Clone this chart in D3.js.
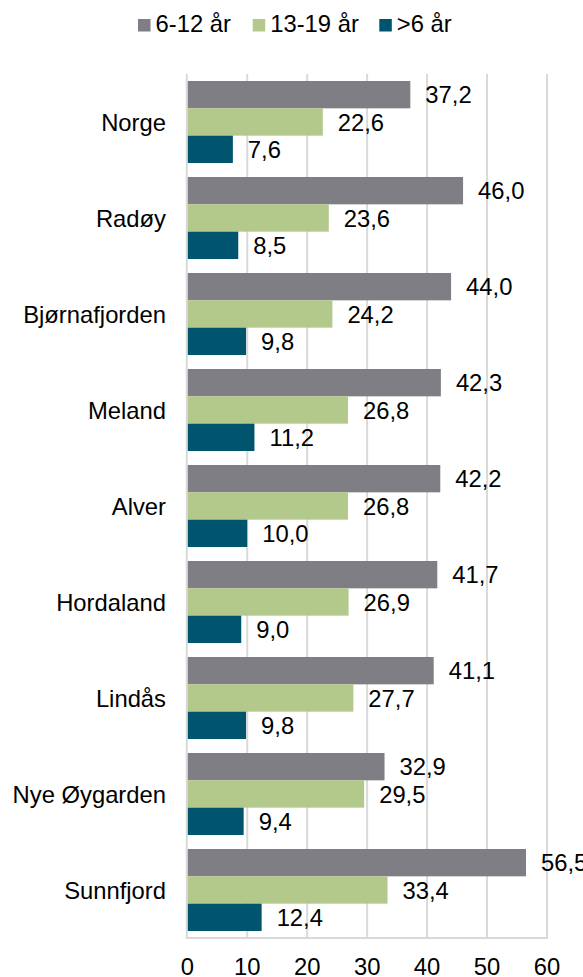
<!DOCTYPE html>
<html>
<head>
<meta charset="utf-8">
<script src="https://cdn.jsdelivr.net/npm/d3@7"></script>
<style>
  body { margin: 0; background: #fff; }
  text { font-family: "Liberation Sans", Arial, sans-serif; fill: #000; }
</style>
</head>
<body>
<script>
"use strict";

// Data
var categories = ["Norge", "Radøy", "Bjørnafjorden", "Meland", "Alver", "Hordaland", "Lindås", "Nye Øygarden", "Sunnfjord"];
var seriesNames = ["6-12 år", "13-19 år", ">6 år"];
var age6to12 = [37.2, 46.0, 44.0, 42.3, 42.2, 41.7, 41.1, 32.9, 56.5];
var age13to19 = [22.6, 23.6, 24.2, 26.8, 26.8, 26.9, 27.7, 29.5, 33.4];
var under6 = [7.6, 8.5, 9.8, 11.2, 10.0, 9.0, 9.8, 9.4, 12.4];
var xTicks = [0, 10, 20, 30, 40, 50, 60];

var seriesValues = [age6to12, age13to19, under6];
var colors = ["#7f7e84", "#b3c98b", "#00546e"];

var width = 583, height = 977;
var fontSize = 23.8;

var svg = d3.select("body").append("svg")
  .attr("width", width)
  .attr("height", height);

// Scales
var x = d3.scaleLinear().domain([0, 60]).range([187.3, 547]);
var y = d3.scaleBand().domain(categories).range([74, 938])
  .paddingInner(0.146).paddingOuter(0.073);
var ySub = d3.scaleBand().domain(d3.range(seriesNames.length)).range([0, y.bandwidth()]);

// Gridlines
svg.append("g").selectAll("line")
  .data(xTicks.slice(1))
  .enter().append("line")
  .attr("x1", function(d) { return x(d); })
  .attr("x2", function(d) { return x(d); })
  .attr("y1", 74).attr("y2", 938)
  .attr("stroke", "#d9d9d9").attr("stroke-width", 2);

// Bars
var groups = svg.append("g").selectAll("g")
  .data(categories)
  .enter().append("g")
  .attr("transform", function(d) { return "translate(0," + y(d) + ")"; });

seriesValues.forEach(function(vals, s) {
  groups.append("rect")
    .attr("x", x(0))
    .attr("y", ySub(s))
    .attr("width", function(d, i) { return x(vals[i]) - x(0); })
    .attr("height", ySub.bandwidth())
    .attr("fill", colors[s]);

  groups.append("text")
    .attr("x", function(d, i) { return x(vals[i]) + 15; })
    .attr("y", ySub(s) + ySub.bandwidth() / 2)
    .attr("dy", "0.36em")
    .style("font-size", fontSize + "px")
    .text(function(d, i) { return vals[i].toFixed(1).replace(".", ","); });
});

// Axes lines
svg.append("line")
  .attr("x1", x(0) - 0.5).attr("x2", x(0) - 0.5)
  .attr("y1", 74).attr("y2", 939)
  .attr("stroke", "#d9d9d9").attr("stroke-width", 2);
svg.append("line")
  .attr("x1", x(0) - 1.5).attr("x2", x(60) + 1)
  .attr("y1", 938).attr("y2", 938)
  .attr("stroke", "#d9d9d9").attr("stroke-width", 2);

// Category labels
svg.append("g").selectAll("text")
  .data(categories)
  .enter().append("text")
  .attr("x", 166)
  .attr("y", function(d) { return y(d) + y.bandwidth() / 2; })
  .attr("dy", "0.36em")
  .attr("text-anchor", "end")
  .style("font-size", fontSize + "px")
  .text(function(d) { return d; });

// X tick labels
svg.append("g").selectAll("text")
  .data(xTicks)
  .enter().append("text")
  .attr("x", function(d) { return x(d); })
  .attr("y", 975)
  .attr("text-anchor", "middle")
  .style("font-size", fontSize + "px")
  .text(function(d) { return d; });

// Legend
var legendX = [138, 252.7, 379.3];
var legend = svg.append("g").selectAll("g")
  .data(seriesNames)
  .enter().append("g")
  .attr("transform", function(d, i) { return "translate(" + legendX[i] + ",0)"; });
legend.append("rect")
  .attr("x", 0).attr("y", 19)
  .attr("width", 12.5).attr("height", 12.5)
  .attr("fill", function(d, i) { return colors[i]; });
legend.append("text")
  .attr("x", 17.5).attr("y", 31.5)
  .style("font-size", fontSize + "px")
  .text(function(d) { return d; });
</script>
</body>
</html>
